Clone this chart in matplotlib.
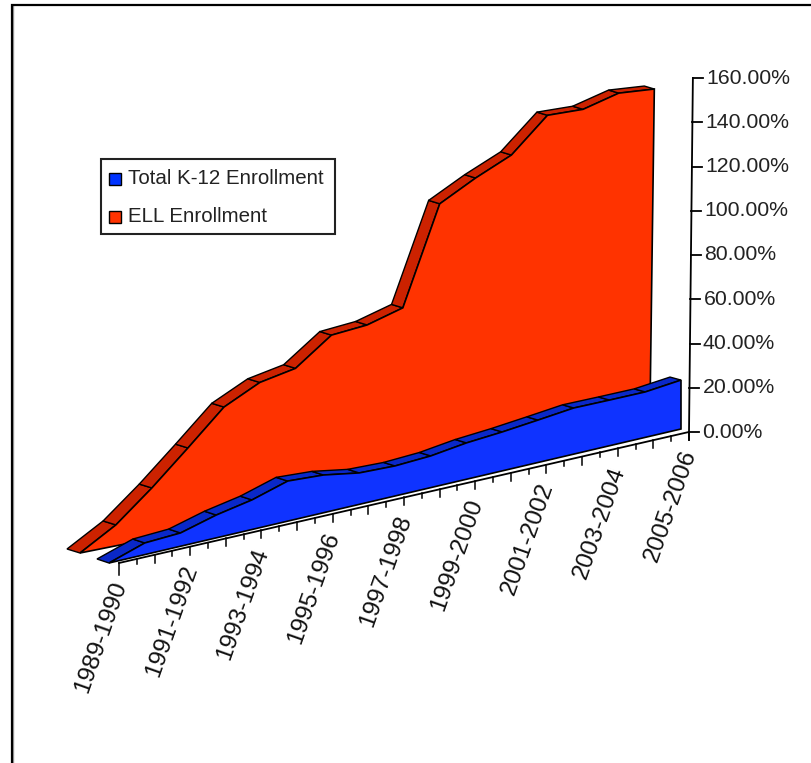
import matplotlib
matplotlib.use('Agg')
import matplotlib.pyplot as plt
from matplotlib.patches import Polygon, Rectangle
from matplotlib.transforms import Affine2D

plt.rcParams['font.family'] = ['Liberation Sans', 'DejaVu Sans']

years = ['1989-1990', '1990-1991', '1991-1992', '1992-1993', '1993-1994', '1994-1995',
         '1995-1996', '1996-1997', '1997-1998', '1998-1999', '1999-2000', '2000-2001',
         '2001-2002', '2002-2003', '2003-2004', '2004-2005', '2005-2006']
total_k12 = [0, 5.0, 5.7, 9.8, 12.7, 17.2, 16.2, 13.5, 12.9, 13.6, 15.6, 16.7, 18.2, 19.8, 19.6, 19.5, 21.0]
ell = [0, 9.0, 21.8, 35.9, 50.4, 57.9, 60.9, 72.1, 73.4, 77.7, 119.3, 127.3, 134.1, 148.1, 147.6, 151.5, 150.2]
y_ticks = [0, 20, 40, 60, 80, 100, 120, 140, 160]


def plane(x0, y0, dx, dy, sy, lean=0.0):
    # (category, percent) -> screen pixels, oblique 3d look
    return Affine2D.from_values(dx, dy, lean * sy, -sy, x0, y0)


def back_plane(x0, y0, dx, dy, sy, lean, dx0, dy0, dx1, dy1):
    n = len(years) - 1
    return plane(x0 + dx0, y0 + dy0, dx + (dx1 - dx0) / n, dy + (dy1 - dy0) / n, sy, lean)


fig = plt.figure(figsize=(8.12, 7.63), dpi=100)
ax = fig.add_axes([0, 0, 1, 1])
ax.set_xlim(0, 812)
ax.set_ylim(763, 0)
ax.axis('off')

# outer frame, runs off the right and bottom edge
ax.plot([13.5, 13.5], [763, 6], color='#a0a0a0', lw=1.0)
ax.plot([12, 12, 812], [763, 4.5, 4.5], color='black', lw=1.6, solid_joinstyle='miter')


def draw_area(vals, front, back, face, side, z):
    xs = list(range(len(vals)))
    for i in xs[:-1]:
        quad = [front.transform((i, vals[i])), front.transform((i + 1, vals[i + 1])),
                back.transform((i + 1, vals[i + 1])), back.transform((i, vals[i]))]
        ax.add_patch(Polygon(quad, closed=True, fc=side, ec='black', lw=1.0, zorder=z))
    pts = [front.transform((i, v)) for i, v in zip(xs, vals)]
    pts.append(front.transform((xs[-1], 0)))
    pts.append(front.transform((0, 0)))
    ax.add_patch(Polygon(pts, closed=True, fc=face, ec='black', lw=1.2, zorder=z + 0.5))


red_args = (80, 553, 35.6, -7.125, 2.33, 0.0135)
blue_args = (109, 563, 35.75, -8.375, 2.33, 0.0)
red_front = plane(*red_args)
blue_front = plane(*blue_args)
cat_tf = plane(119, 563, 35.625, -8.19, 1.0)
draw_area(ell, red_front, back_plane(*red_args, -13, -4, -10, -3), '#ff3300', '#cc2200', 2)

# white floor strip hides the foot of the red area
floor = [blue_front.transform((0, 0)), blue_front.transform((16, 0)),
         cat_tf.transform((16, 0)) + (4, 2), cat_tf.transform((0, 0)) + (-12, 4)]
ax.add_patch(Polygon(floor, closed=True, fc='white', ec='none', zorder=3))

draw_area(total_k12, blue_front, back_plane(*blue_args, -12, -4, -11, -3), '#0f33ff', '#0a28c8', 4)

# value axis
val_tf = plane(689, 432, 0, 0, 2.2125, 0.011)
p0 = val_tf.transform((0, 0))
p1 = val_tf.transform((0, y_ticks[-1]))
ax.plot([p0[0], p0[0]], [p0[1], p0[1] + 8], color='black', lw=1.3, zorder=6)
ax.plot([p0[0], p1[0]], [p0[1], p1[1]], color='black', lw=1.3, zorder=6)
for t in y_ticks:
    px, py = val_tf.transform((0, t))
    ax.plot([px, px + 10], [py, py], color='black', lw=1.3, zorder=6)
    ax.text(px + 13, py, '%.2f%%' % t, fontsize=15.3, ha='left', va='center', color='#222222', zorder=7)

# category axis, ticks every half category
ax.plot(*zip(cat_tf.transform((0, 0)), cat_tf.transform((16, 0)), val_tf.transform((0, 0))),
        color='black', lw=1.3, zorder=6)
for k in range(33):
    px, py = cat_tf.transform((k / 2, 0))
    if k == 0:
        tick = 12
    elif k % 2 == 0:
        tick = 8
    else:
        tick = 5
    ax.plot([px, px], [py, py + tick], color='black', lw=1.1, zorder=6)
for i in range(0, len(years), 2):
    px, py = cat_tf.transform((i, 0))
    ax.text(px + 1, py + 19, years[i], fontsize=17.6, rotation=70.5, rotation_mode='anchor',
            ha='right', va='center', color='#111111', zorder=7)

# legend box
ax.add_patch(Rectangle((101, 159), 234, 75, fc='white', ec='#222222', lw=1.5, zorder=8))
ax.add_patch(Rectangle((109, 173), 12, 12, fc='#0033ff', ec='black', lw=1.0, zorder=9))
ax.add_patch(Rectangle((109, 211), 12, 12, fc='#ff3300', ec='black', lw=1.0, zorder=9))
ax.text(128, 178, 'Total K-12 Enrollment', fontsize=14.8, ha='left', va='center', color='#222222', zorder=9)
ax.text(128, 216, 'ELL Enrollment', fontsize=14.8, ha='left', va='center', color='#222222', zorder=9)

fig.savefig('out.png', dpi=100)
